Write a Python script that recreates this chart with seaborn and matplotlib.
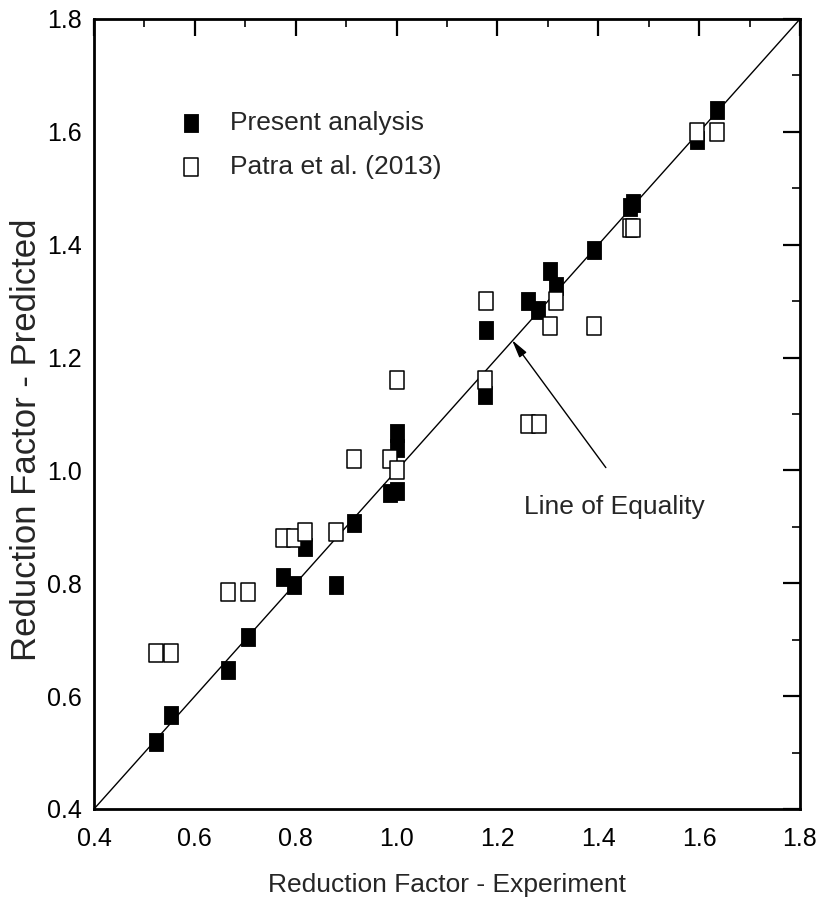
import matplotlib
matplotlib.use("Agg")
import matplotlib.pyplot as plt
from matplotlib.path import Path
from matplotlib.ticker import MultipleLocator, FormatStrFormatter
import pandas as pd
import seaborn as sns

# Experimental vs predicted reduction factors
present_exp = [0.522, 0.552, 0.665, 0.705, 0.775, 0.797, 0.818, 0.880, 0.916, 0.987,
               1.000, 1.000, 1.000, 1.175, 1.177, 1.261, 1.281, 1.305, 1.316, 1.391,
               1.463, 1.469, 1.595, 1.635]
present_pred = [0.519, 0.567, 0.646, 0.705, 0.811, 0.797, 0.864, 0.797, 0.907, 0.960,
                0.964, 1.040, 1.066, 1.134, 1.249, 1.300, 1.284, 1.354, 1.327, 1.390,
                1.467, 1.474, 1.586, 1.639]

patra_exp = [0.522, 0.552, 0.665, 0.705, 0.775, 0.797, 0.818, 0.880, 0.916, 0.987,
             1.000, 1.000, 1.175, 1.177, 1.261, 1.283, 1.305, 1.316, 1.391, 1.463,
             1.469, 1.595, 1.635]
patra_pred = [0.677, 0.677, 0.785, 0.785, 0.880, 0.880, 0.891, 0.891, 1.020, 1.020,
              1.000, 1.160, 1.160, 1.300, 1.083, 1.083, 1.256, 1.300, 1.256, 1.429,
              1.429, 1.600, 1.600]

series_labels = ["Present analysis", "Patra et al. (2013)"]
axis_range = [0.4, 1.8]
equality_label = "Line of Equality"
x_title = "Reduction Factor - Experiment"
y_title = "Reduction Factor - Predicted"

sns.set_theme(style="white")
plt.rcParams["font.family"] = ["Liberation Sans", "DejaVu Sans"]

# tall rectangular marker
box = Path([(-0.4, -0.5), (0.4, -0.5), (0.4, 0.5), (-0.4, 0.5), (-0.4, -0.5)],
           [Path.MOVETO, Path.LINETO, Path.LINETO, Path.LINETO, Path.CLOSEPOLY])

fig = plt.figure(figsize=(8.18, 9.15), dpi=100)
ax = fig.add_axes([94 / 818, 1 - 809 / 915, 706 / 818, 790 / 915])

line_df = pd.DataFrame({"x": axis_range, "y": axis_range})
sns.lineplot(data=line_df, x="x", y="y", ax=ax, color="black", linewidth=1.0,
             zorder=1, legend=False)

present_df = pd.DataFrame({"exp": present_exp, "pred": present_pred})
patra_df = pd.DataFrame({"exp": patra_exp, "pred": patra_pred})

sns.scatterplot(data=present_df, x="exp", y="pred", ax=ax, marker=box, s=150,
                color="black", edgecolor="black", linewidth=0.6,
                label=series_labels[0], zorder=3)
sns.scatterplot(data=patra_df, x="exp", y="pred", ax=ax, marker=box, s=150,
                color="white", edgecolor="black", linewidth=1.1,
                label=series_labels[1], zorder=4)

ax.set_xlim(*axis_range)
ax.set_ylim(*axis_range)
ax.xaxis.set_major_locator(MultipleLocator(0.2))
ax.yaxis.set_major_locator(MultipleLocator(0.2))
ax.xaxis.set_minor_locator(MultipleLocator(0.1))
ax.yaxis.set_minor_locator(MultipleLocator(0.1))
ax.xaxis.set_major_formatter(FormatStrFormatter("%.1f"))
ax.yaxis.set_major_formatter(FormatStrFormatter("%.1f"))
ax.tick_params(which="major", direction="in", length=12, width=1.6,
               top=True, right=True, labelsize=18, colors="black")
ax.tick_params(which="minor", direction="in", length=6, width=1.4,
               top=True, right=True)
ax.tick_params(axis="x", which="major", pad=13)
ax.tick_params(axis="y", which="major", pad=9)
for s in ax.spines.values():
    s.set_linewidth(2.0)
    s.set_color("black")

ax.set_xlabel(x_title, fontsize=19)
ax.set_ylabel(y_title, fontsize=25)
ax.xaxis.set_label_coords(0.5, -0.096)
ax.xaxis.label.set_verticalalignment("center")
ax.yaxis.set_label_coords(-0.095, 0.468)
ax.yaxis.label.set_verticalalignment("center")

ax.annotate("", xy=(1.229, 1.231), xytext=(1.415, 1.005),
            arrowprops=dict(arrowstyle="-|>,head_length=0.9,head_width=0.22",
                            color="black", lw=1.0, shrinkA=0, shrinkB=0))
ax.text(1.431, 0.935, equality_label, fontsize=19, ha="center", va="center")

ax.legend(loc="center left", bbox_to_anchor=(0.119, 0.8405), frameon=False,
          fontsize=19, handlelength=1.0, handletextpad=0.98,
          borderpad=0, borderaxespad=0, labelspacing=0.73)

fig.savefig("out.png", dpi=100)
